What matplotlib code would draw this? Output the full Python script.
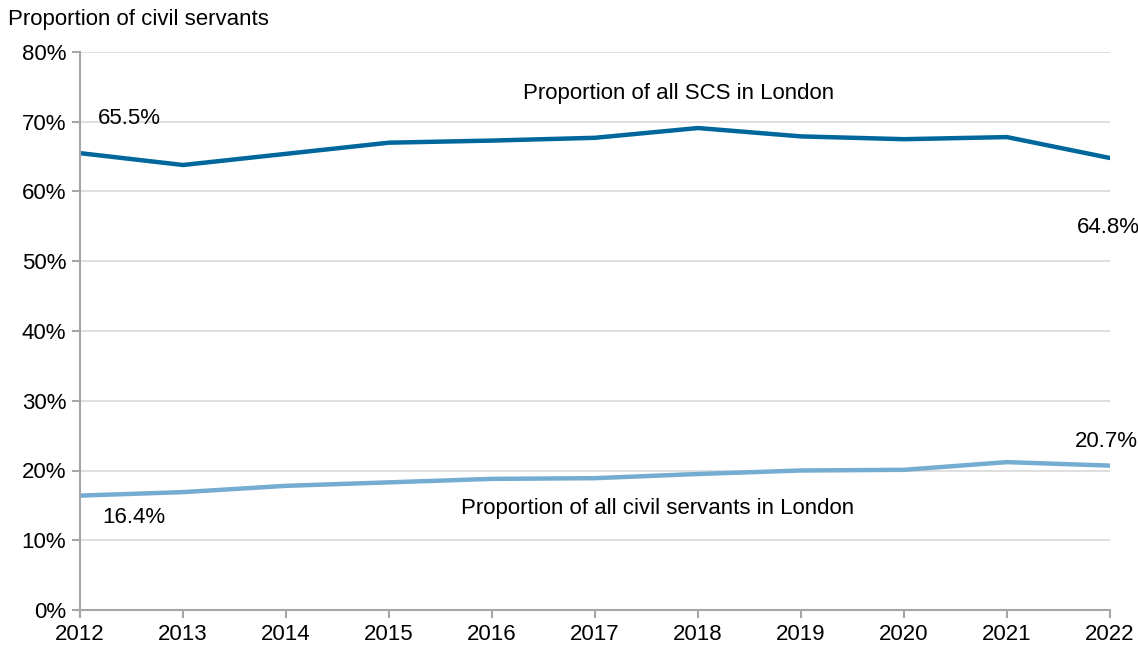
import matplotlib
matplotlib.use("Agg")
import matplotlib.pyplot as plt
from matplotlib.ticker import PercentFormatter

plt.rcParams['font.family'] = ['Liberation Sans', 'DejaVu Sans']

# Data
years = [2012, 2013, 2014, 2015, 2016, 2017, 2018, 2019, 2020, 2021, 2022]
scs_london = [65.5, 63.8, 65.4, 67.0, 67.3, 67.7, 69.1, 67.9, 67.5, 67.8, 64.8]
all_london = [16.4, 16.9, 17.8, 18.3, 18.8, 18.9, 19.5, 20.0, 20.1, 21.2, 20.7]
yticks = [0, 10, 20, 30, 40, 50, 60, 70, 80]

dark = '#00679C'
light = '#74ACD2'
fs = 16

fig = plt.figure(figsize=(11.38, 6.48), dpi=100)
ax = fig.add_axes([80/1138, 38/648, 1030/1138, 558/648])

ax.plot(years, scs_london, color=dark, lw=3.2, solid_capstyle='round')
ax.plot(years, all_london, color=light, lw=3.2, solid_capstyle='round')

ax.set_xlim(years[0], years[-1])
ax.set_ylim(0, 80)
ax.set_xticks(years)
ax.set_yticks(yticks)
ax.yaxis.set_major_formatter(PercentFormatter(decimals=0))

for y in yticks[1:]:
    ax.axhline(y, color='#D9D9D9', lw=1.2, zorder=0)

for side in ['top', 'right']:
    ax.spines[side].set_visible(False)
for side in ['left', 'bottom']:
    ax.spines[side].set_color('#A6A6A6')
    ax.spines[side].set_linewidth(1.5)
ax.tick_params(axis='both', colors='#A6A6A6', width=1.5, length=6, labelsize=fs, labelcolor='black')
ax.tick_params(axis='x', pad=4)
ax.tick_params(axis='y', pad=4)

# Annotations
ax.text(2012.17, 70.5, '65.5%', fontsize=fs, ha='left', va='center', clip_on=False)
ax.text(2021.98, 54.8, '64.8%', fontsize=fs, ha='center', va='center', clip_on=False)
ax.text(2012.22, 13.2, '16.4%', fontsize=fs, ha='left', va='center', clip_on=False)
ax.text(2021.96, 24.1, '20.7%', fontsize=fs, ha='center', va='center', clip_on=False)
ax.text(2017.81, 74.1, 'Proportion of all SCS in London', fontsize=fs, ha='center', va='center')
ax.text(2017.61, 14.5, 'Proportion of all civil servants in London', fontsize=fs, ha='center', va='center')

fig.text(8/1138, 1 - 20/648, 'Proportion of civil servants', fontsize=fs, ha='left', va='center')

fig.savefig('out.png', dpi=100)
